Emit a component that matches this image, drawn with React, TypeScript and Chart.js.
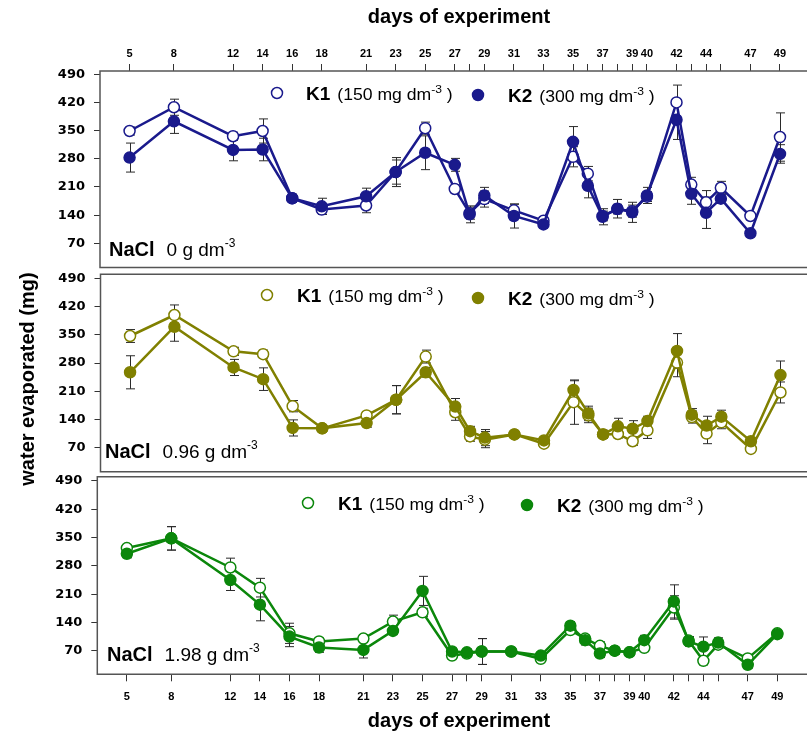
import React, { useEffect, useRef } from 'react';
import { Chart, registerables } from 'chart.js';

Chart.register(...registerables);

// ---------------- data ----------------
const days = [5, 8, 12, 14, 16, 18, 21, 23, 25, 27, 28, 29, 31, 33, 35, 36, 37, 38, 39, 40, 42, 43, 44, 45, 47, 49];
const labelledDays = [5, 8, 12, 14, 16, 18, 21, 23, 25, 27, 29, 31, 33, 35, 37, 39, 40, 42, 44, 47, 49];
const yTickValues = [70, 140, 210, 280, 350, 420, 490];

// NaCl 0 g dm-3
const k1Nacl0 = [349, 408, 336, 349, 182, 154, 164, 247, 356, 205, 145, 180, 152, 126, 285, 243, 138, 155, 150, 186, 420, 216, 172, 208, 138, 334];
const k1Nacl0Err = [10, 20, 10, 30, 8, 12, 18, 30, 15, 10, 15, 20, 15, 8, 25, 18, 12, 12, 15, 12, 43, 18, 29, 16, 8, 60];
const k2Nacl0 = [283, 373, 302, 303, 182, 162, 187, 247, 295, 265, 142, 189, 138, 117, 322, 213, 136, 156, 147, 189, 377, 193, 146, 181, 95, 292];
const k2Nacl0Err = [36, 30, 27, 28, 10, 20, 20, 36, 42, 16, 21, 20, 30, 10, 38, 30, 20, 23, 25, 20, 49, 26, 39, 12, 8, 23];

// NaCl 0.96 g dm-3
const k1Nacl096 = [347, 399, 309, 302, 173, 118, 150, 189, 296, 158, 98, 90, 103, 80, 183, 150, 103, 104, 86, 113, 281, 146, 105, 133, 67, 207];
const k1Nacl096Err = [16, 25, 10, 10, 14, 6, 8, 35, 16, 20, 12, 20, 6, 6, 55, 18, 10, 10, 10, 20, 35, 15, 25, 16, 6, 26];
const k2Nacl096 = [257, 370, 269, 240, 119, 118, 131, 189, 257, 172, 111, 95, 103, 88, 213, 155, 103, 123, 117, 136, 310, 152, 125, 147, 86, 250];
const k2Nacl096Err = [41, 36, 20, 28, 20, 6, 10, 35, 12, 20, 12, 20, 6, 8, 23, 18, 10, 20, 20, 12, 43, 15, 23, 16, 8, 35];

// NaCl 1.98 g dm-3
const k1Nacl198 = [324, 348, 276, 226, 113, 93, 100, 142, 165, 58, 63, 68, 68, 50, 121, 100, 82, 70, 66, 77, 177, 95, 45, 85, 51, 113];
const k1Nacl198Err = [8, 29, 23, 23, 25, 8, 10, 16, 10, 6, 6, 32, 8, 6, 6, 8, 10, 8, 8, 8, 29, 8, 10, 8, 5, 8];
const k2Nacl198 = [310, 348, 245, 184, 105, 78, 72, 119, 218, 68, 66, 68, 68, 58, 132, 96, 63, 70, 66, 96, 192, 93, 80, 90, 35, 111];
const k2Nacl198Err = [10, 29, 26, 40, 25, 12, 20, 8, 36, 8, 8, 32, 8, 6, 10, 12, 10, 8, 8, 12, 41, 12, 24, 12, 8, 10];

const naclLabels = ['0', '0.96', '1.98'];
const k1Label = 'K1';
const k2Label = 'K2';
const k1Dose = '(150 mg dm';
const k2Dose = '(300 mg dm';
const xTitle = 'days of experiment';
const yTitle = 'water evaporated (mg)';

// ---------------- layout / style ----------------
const W = 807;
const H = 738;
const PX_PER_DAY = 14.93;
const X_MIN = 3;
const SANS = '"Liberation Sans", Arial, sans-serif';

type Panel = {
  color: string;
  k1: number[]; k1Err: number[]; k2: number[]; k2Err: number[];
  nacl: string;
  xAxis: 'top' | 'none' | 'bottom';
  left: number; top: number; bottom: number;
  yMin: number; yMax: number;
  k1Pos: [number, number]; k2Pos: [number, number];
  k1TextX: number; k2TextX: number;
  naclPos: [number, number];
};

const panels: Panel[] = [
  {
    color: '#1a1a8c', k1: k1Nacl0, k1Err: k1Nacl0Err, k2: k2Nacl0, k2Err: k2Nacl0Err, nacl: naclLabels[0],
    xAxis: 'top', left: 100, top: 71, bottom: 267.5, yMin: 10, yMax: 498,
    k1Pos: [277, 93], k2Pos: [478, 95], k1TextX: 306, k2TextX: 508, naclPos: [109, 255.5],
  },
  {
    color: '#808000', k1: k1Nacl096, k1Err: k1Nacl096Err, k2: k2Nacl096, k2Err: k2Nacl096Err, nacl: naclLabels[1],
    xAxis: 'none', left: 100.5, top: 274.3, bottom: 471.7, yMin: 10.5, yMax: 500,
    k1Pos: [267, 295], k2Pos: [478, 298], k1TextX: 297, k2TextX: 508, naclPos: [105, 458.3],
  },
  {
    color: '#0b870b', k1: k1Nacl198, k1Err: k1Nacl198Err, k2: k2Nacl198, k2Err: k2Nacl198Err, nacl: naclLabels[2],
    xAxis: 'bottom', left: 97.3, top: 476.7, bottom: 674.3, yMin: 11.6, yMax: 500.6,
    k1Pos: [308, 503], k2Pos: [527, 505], k1TextX: 338, k2TextX: 557, naclPos: [107, 660.7],
  },
];

type Run = { text: string; font: string; dy?: number; sx?: number };

function drawRuns(ctx: CanvasRenderingContext2D, x: number, y: number, runs: Run[]) {
  let cx = x;
  for (const r of runs) {
    ctx.font = r.font;
    const sx = r.sx ?? 1;
    const w = ctx.measureText(r.text).width * sx;
    ctx.save();
    ctx.translate(cx, y + (r.dy ?? 0));
    ctx.scale(sx, 1);
    ctx.fillText(r.text, 0, 0);
    ctx.restore();
    cx += w;
  }
  return cx;
}

function makeDecor(p: Panel, index: number) {
  return {
    id: 'panelDecor' + index,
    beforeDatasetsDraw(chart: any) {
      const ctx: CanvasRenderingContext2D = chart.ctx;
      const area = chart.chartArea;
      const ys = chart.scales.y;
      // frame (left, top, bottom)
      ctx.save();
      ctx.strokeStyle = '#555';
      ctx.lineWidth = 1.5;
      ctx.beginPath();
      ctx.moveTo(W, area.top);
      ctx.lineTo(area.left, area.top);
      ctx.lineTo(area.left, area.bottom);
      ctx.lineTo(W, area.bottom);
      ctx.stroke();
      ctx.restore();
      // error bars
      const errs = [p.k2Err, p.k1Err];
      const vals = [p.k2, p.k1];
      ctx.save();
      ctx.strokeStyle = '#2a2a2a';
      ctx.lineWidth = 1;
      chart.data.datasets.forEach((_ds: any, di: number) => {
        const meta = chart.getDatasetMeta(di);
        meta.data.forEach((pt: any, i: number) => {
          const v = vals[di][i];
          const e = errs[di][i];
          const x = Math.round(pt.x) + 0.5;
          const yT = ys.getPixelForValue(v + e);
          const yB = ys.getPixelForValue(v - e);
          ctx.beginPath();
          ctx.moveTo(x, yT); ctx.lineTo(x, yB);
          ctx.moveTo(x - 4.5, yT); ctx.lineTo(x + 4.5, yT);
          ctx.moveTo(x - 4.5, yB); ctx.lineTo(x + 4.5, yB);
          ctx.stroke();
        });
      });
      ctx.restore();
    },
    afterDraw(chart: any) {
      const ctx: CanvasRenderingContext2D = chart.ctx;
      ctx.save();
      ctx.fillStyle = '#000';
      ctx.textAlign = 'left';
      ctx.textBaseline = 'alphabetic';
      // legend markers
      const mk = (x: number, y: number, filled: boolean) => {
        ctx.beginPath();
        ctx.arc(x, y, 5.5, 0, Math.PI * 2);
        ctx.fillStyle = filled ? p.color : '#fff';
        ctx.fill();
        ctx.lineWidth = 1.5;
        ctx.strokeStyle = p.color;
        ctx.stroke();
      };
      mk(p.k1Pos[0], p.k1Pos[1], false);
      mk(p.k2Pos[0], p.k2Pos[1], true);
      ctx.fillStyle = '#000';
      const legendText = (tx: number, my: number, label: string, dose: string) => {
        const base = my + 6.8;
        const end = drawRuns(ctx, tx, base, [{ text: label, font: `bold 19px ${SANS}` }]);
        drawRuns(ctx, end + 7, base, [
          { text: dose, font: `16px ${SANS}`, sx: 1.1 },
          { text: '-3', font: `11px ${SANS}`, dy: -6.5, sx: 1.1 },
          { text: ' )', font: `16px ${SANS}`, sx: 1.1 },
        ]);
      };
      legendText(p.k1TextX, p.k1Pos[1], k1Label, k1Dose);
      legendText(p.k2TextX, p.k2Pos[1], k2Label, k2Dose);
      // NaCl annotation
      const nEnd = drawRuns(ctx, p.naclPos[0], p.naclPos[1], [{ text: 'NaCl', font: `bold 20px ${SANS}` }]);
      drawRuns(ctx, nEnd + 12, p.naclPos[1], [
        { text: `${p.nacl} g dm`, font: `19px ${SANS}` },
        { text: '-3', font: `12px ${SANS}`, dy: -9 },
      ]);
      // titles
      ctx.font = `bold 20px ${SANS}`;
      ctx.textAlign = 'center';
      if (p.xAxis === 'top') ctx.fillText(xTitle, 459, 23);
      if (p.xAxis === 'bottom') ctx.fillText(xTitle, 459, 726.5);
      if (p.xAxis === 'none') {
        ctx.save();
        ctx.translate(34.3, 379);
        ctx.rotate(-Math.PI / 2);
        ctx.fillText(yTitle, 0, 0);
        ctx.restore();
      }
      ctx.restore();
    },
  };
}

function PanelChart({ p, index }: { p: Panel; index: number }) {
  const ref = useRef<HTMLCanvasElement | null>(null);
  useEffect(() => {
    if (!ref.current) return;
    const xMax = X_MIN + (W - p.left) / PX_PER_DAY;
    const padTop = p.xAxis === 'top' ? 0 : p.top;
    const padBottom = p.xAxis === 'bottom' ? 0 : H - p.bottom;
    const xHeight = p.xAxis === 'top' ? p.top : p.xAxis === 'bottom' ? H - p.bottom : 0;
    const chart = new Chart(ref.current, {
      type: 'line',
      data: {
        datasets: [
          {
            label: k2Label,
            data: days.map((d, i) => ({ x: d, y: p.k2[i] })),
            borderColor: p.color,
            backgroundColor: p.color,
            pointBackgroundColor: p.color,
            pointBorderColor: p.color,
            borderWidth: 2.5,
            pointRadius: 5.5,
            pointBorderWidth: 1.5,
            tension: 0,
          },
          {
            label: k1Label,
            data: days.map((d, i) => ({ x: d, y: p.k1[i] })),
            borderColor: p.color,
            backgroundColor: '#fff',
            pointBackgroundColor: '#fff',
            pointBorderColor: p.color,
            borderWidth: 2.5,
            pointRadius: 5.5,
            pointBorderWidth: 1.5,
            tension: 0,
          },
        ],
      },
      options: {
        animation: false,
        responsive: false,
        events: [],
        layout: { padding: { top: padTop, bottom: padBottom, left: 0, right: 0 } },
        plugins: { legend: { display: false }, tooltip: { enabled: false }, title: { display: false } },
        scales: {
          x: {
            type: 'linear',
            display: p.xAxis !== 'none',
            position: p.xAxis === 'top' ? 'top' : 'bottom',
            min: X_MIN,
            max: xMax,
            afterBuildTicks: (s: any) => { s.ticks = days.map((v) => ({ value: v })); },
            afterFit: (s: any) => { s.height = xHeight; },
            ticks: {
              autoSkip: false,
              maxRotation: 0,
              minRotation: 0,
              padding: p.xAxis === 'top' ? 3 : 9,
              color: '#000',
              font: { family: SANS, size: 11, weight: 'bold' },
              callback: (v: any) => (labelledDays.includes(Number(v)) ? String(v) : ''),
            },
            grid: { drawOnChartArea: false, drawTicks: true, tickLength: 7, color: '#333', lineWidth: 1 },
            border: { display: false },
          },
          y: {
            type: 'linear',
            min: p.yMin,
            max: p.yMax,
            afterBuildTicks: (s: any) => { s.ticks = yTickValues.map((v) => ({ value: v })); },
            afterFit: (s: any) => { s.width = p.left; },
            ticks: {
              padding: 9,
              color: '#000',
              font: { family: '"DejaVu Sans", sans-serif', size: 13, weight: 'bold' },
            },
            grid: { drawOnChartArea: false, drawTicks: true, tickLength: 6, color: '#333', lineWidth: 1 },
            border: { display: false },
          },
        },
      } as any,
      plugins: [makeDecor(p, index)],
    });
    return () => chart.destroy();
  }, [p, index]);
  return (
    <canvas
      ref={ref}
      width={W}
      height={H}
      style={{ position: 'absolute', left: 0, top: 0, width: W, height: H }}
    />
  );
}

export default function App() {
  return (
    <div style={{ position: 'absolute', left: 0, top: 0, width: W, height: H, background: '#fff', overflow: 'hidden' }}>
      {panels.map((p, i) => (
        <PanelChart key={i} p={p} index={i} />
      ))}
    </div>
  );
}
